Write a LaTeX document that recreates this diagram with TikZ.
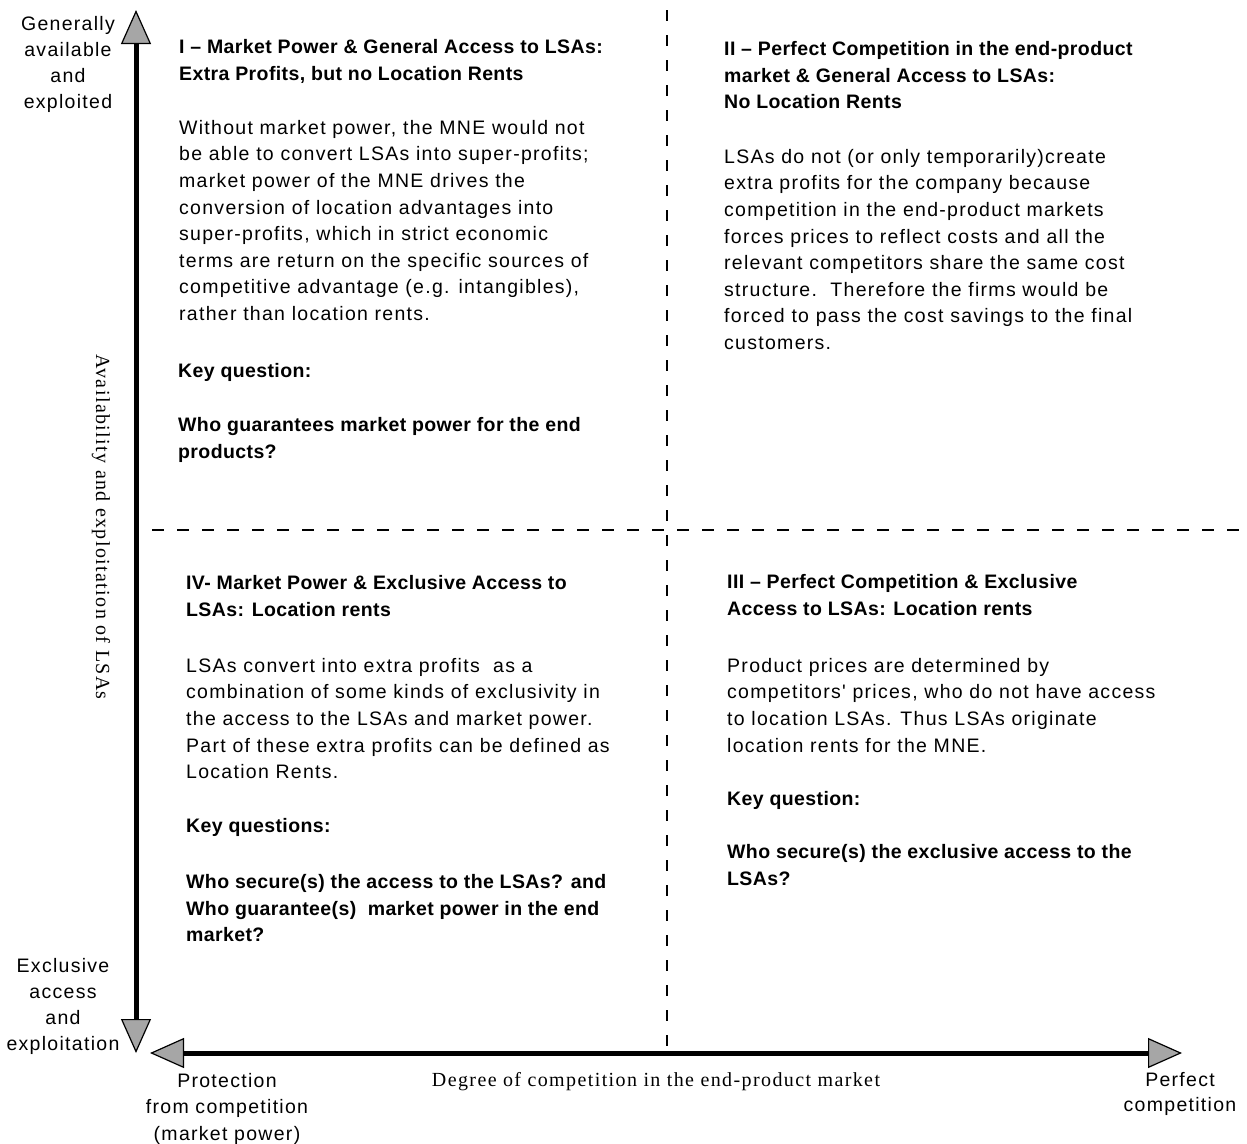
\documentclass[tikz,border=0pt]{standalone}
\usepackage{fontspec}
\setmainfont{Liberation Sans}
\newfontfamily\bodyf{Liberation Sans}[LetterSpace=6.6]
\newfontfamily\ttlf{Liberation Sans}[LetterSpace=2]
\newfontfamily\serf{Liberation Serif}[LetterSpace=7]
\usetikzlibrary{arrows.meta}
\begin{document}
\begin{tikzpicture}[x=1pt,y=-1pt,
  tipA/.tip={Triangle[length=34pt,width=30pt,fill=gray!70,line width=1.2pt]},
  txt/.style={anchor=north west, align=left, inner sep=0pt, font=\bodyf\fontsize{19.5}{26.6}\selectfont},
  ttl/.style={anchor=north west, align=left, inner sep=0pt, font=\ttlf\bfseries\fontsize{19.5}{26.8}\selectfont},
  lab/.style={anchor=north, align=center, inner sep=0pt, font=\bodyf\fontsize{19.5}{26}\selectfont},
  serlab/.style={inner sep=0pt, font=\serf\fontsize{20}{24}\selectfont},
  axis/.style={line width=5pt, {tipA}-{tipA}},
  divider/.style={line width=2pt, dash pattern=on 11pt off 14pt}]
\useasboundingbox (0,0) rectangle (1247,1143);

% dividers
\coordinate (dvt) at (667,10);
\coordinate (dvb) at (667,1046);
\coordinate (dhl) at (152,530);
\coordinate (dhr) at (1242,530);
\draw[divider] (dvt) -- (dvb);
\draw[divider, dash pattern=on 12pt off 13pt] (dhl) -- (dhr);

% axes
\coordinate (vtop) at (136,10);
\coordinate (vbot) at (136,1053);
\coordinate (hl) at (150,1053);
\coordinate (hr) at (1182,1053);
\draw[axis] (vbot) -- (vtop);
\draw[axis] (hl) -- (hr);

% axis labels
\node[lab] (ytop) at (68,16) {Generally\\available\\and\\exploited};
\node[lab] (ybot) at (63,958) {Exclusive\\access\\and\\exploitation};
\node[lab, font=\bodyf\fontsize{19.5}{26.5}\selectfont] (xleft) at (227,1073) {Protection\\from competition\\(market power)};
\node[lab, font=\bodyf\fontsize{19.5}{25}\selectfont] (xright) at (1180,1072) {Perfect\\competition};
\node[serlab, anchor=base] (xlab) at (656,1086) {Degree of competition in the end-product market};
\node[serlab, rotate=-90] (ylab) at (101,527) {Availability and exploitation of LSAs};

% Quadrant I
\node[ttl] (t1) at (179,39) {I – Market Power \& General Access to LSAs:\\Extra Profits, but no Location Rents};
\node[txt] (b1) at (179,120) {Without market power, the MNE would not\\be able to convert LSAs into super-profits;\\market power of the MNE drives the\\conversion of location advantages into\\super-profits, which in strict economic\\terms are return on the specific sources of\\competitive advantage (e.g. intangibles),\\rather than location rents.};
\node[ttl] (k1) at (178,363) {Key question:};
\node[ttl] (q1) at (178,417) {Who guarantees market power for the end\\products?};

% Quadrant II
\node[ttl] (t2) at (724,41) {II – Perfect Competition in the end-product\\market \& General Access to LSAs:\\No Location Rents};
\node[txt] (b2) at (724,149) {LSAs do not (or only temporarily)create\\extra profits for the company because\\competition in the end-product markets\\forces prices to reflect costs and all the\\relevant competitors share the same cost\\structure.\ \ Therefore the firms would be\\forced to pass the cost savings to the final\\customers.};

% Quadrant IV
\node[ttl] (t4) at (186,575) {IV- Market Power \& Exclusive Access to\\LSAs: Location rents};
\node[txt] (b4) at (186,658) {LSAs convert into extra profits\ \ as a\\combination of some kinds of exclusivity in\\the access to the LSAs and market power.\\Part of these extra profits can be defined as\\Location Rents.};
\node[ttl] (k4) at (186,818) {Key questions:};
\node[ttl] (q4) at (186,874) {Who secure(s) the access to the LSAs? and\\Who guarantee(s)\ \ market power in the end\\market?};

% Quadrant III
\node[ttl] (t3) at (727,574) {III – Perfect Competition \& Exclusive\\Access to LSAs: Location rents};
\node[txt] (b3) at (727,658) {Product prices are determined by\\competitors' prices, who do not have access\\to location LSAs. Thus LSAs originate\\location rents for the MNE.};
\node[ttl] (k3) at (727,791) {Key question:};
\node[ttl] (q3) at (727,844) {Who secure(s) the exclusive access to the\\LSAs?};
\end{tikzpicture}
\end{document}
